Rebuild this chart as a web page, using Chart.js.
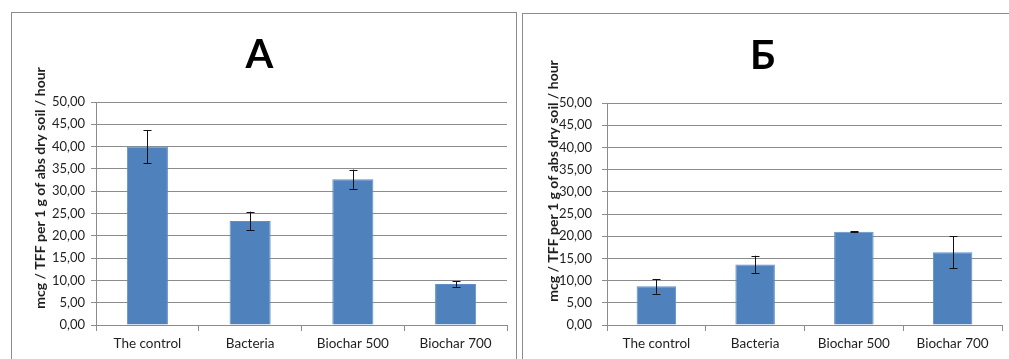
<!DOCTYPE html>
<html>
<head>
<meta charset="utf-8">
<script src="https://cdn.jsdelivr.net/npm/chart.js@4.4.0/dist/chart.umd.min.js"></script>
<style>
  body { margin: 0; background: #fff; width: 1009px; height: 359px; overflow: hidden; position: relative; }
  .frame { position: absolute; border: 1px solid #8c8c8c; border-bottom: none; }
  #frameA { left: 11px; top: 12px; width: 504px; height: 347px; }
  #frameB { left: 522px; top: 13px; width: 490px; height: 346px; border-right: none; }
  canvas { position: absolute; }
  #chartA { left: 12px; top: 13px; }
  #chartB { left: 523px; top: 14px; }
</style>
</head>
<body>
<div class="frame" id="frameA"></div>
<div class="frame" id="frameB"></div>
<canvas id="chartA" width="504" height="346"></canvas>
<canvas id="chartB" width="486" height="345"></canvas>
<script>
// datos
const categorias = ['The control', 'Bacteria', 'Biochar 500', 'Biochar 700'];
const valoresA = [40.0, 23.3, 32.7, 9.2];
const erroresA = [3.7, 2.1, 2.15, 0.65];
const valoresB = [8.7, 13.6, 21.0, 16.4];
const erroresB = [1.65, 2.0, 0.1, 3.6];
const ticksY = [0, 5, 10, 15, 20, 25, 30, 35, 40, 45, 50];
const tituloEje = 'mcg / TFF per 1 g of abs dry soil / hour';

const fuente = 'Lato, "Open Sans", sans-serif';
const colorTexto = '#1f1f1f';
const colorGrid = '#8c8c8c';

// barras de error dibujadas con las escalas de Chart.js
const pluginErrores = {
  id: 'errores',
  afterDatasetsDraw(chart, args, opts) {
    const ctx = chart.ctx;
    const meta = chart.getDatasetMeta(0);
    const y = chart.scales.y;
    ctx.save();
    ctx.strokeStyle = '#111';
    ctx.lineWidth = 1;
    meta.data.forEach((bar, i) => {
      const v = chart.data.datasets[0].data[i];
      const e = opts.errores[i];
      const x = Math.round(bar.x) + 0.5;
      const yTop = y.getPixelForValue(v + e);
      const yBot = y.getPixelForValue(v - e);
      ctx.beginPath();
      ctx.moveTo(x, yTop);
      ctx.lineTo(x, yBot);
      ctx.moveTo(x - 4, Math.round(yTop) + 0.5);
      ctx.lineTo(x + 4, Math.round(yTop) + 0.5);
      ctx.moveTo(x - 4, Math.round(yBot) + 0.5);
      ctx.lineTo(x + 4, Math.round(yBot) + 0.5);
      ctx.stroke();
    });
    ctx.restore();
  }
};

// titulo del eje Y girado
const pluginTituloEje = {
  id: 'tituloEje',
  afterDraw(chart, args, opts) {
    const ctx = chart.ctx;
    ctx.save();
    ctx.translate(opts.x, opts.y);
    ctx.rotate(-Math.PI / 2);
    ctx.font = 'bold 14px ' + fuente;
    ctx.fillStyle = colorTexto;
    ctx.textAlign = 'center';
    ctx.textBaseline = 'middle';
    ctx.fillText(tituloEje, 0, 0);
    ctx.restore();
  }
};

function crearGrafico(id, titulo, valores, errores, derecha, padTicks, ejeX, ejeY) {
  const ctx = document.getElementById(id).getContext('2d');
  return new Chart(ctx, {
    type: 'bar',
    data: {
      labels: categorias,
      datasets: [{
        data: valores,
        backgroundColor: '#4F81BD',
        borderColor: '#5f8fc6',
        borderWidth: 1,
        barPercentage: 0.4,
        categoryPercentage: 1
      }]
    },
    options: {
      responsive: false,
      animation: false,
      layout: { padding: { left: 0, right: derecha, top: 0, bottom: 0 } },
      plugins: {
        legend: { display: false },
        tooltip: { enabled: false },
        title: {
          display: true,
          text: titulo,
          color: '#000',
          font: { family: fuente, size: 40, weight: 'bold', lineHeight: 1.2 },
          padding: { top: 18, bottom: 23 }
        },
        errores: { errores: errores },
        tituloEje: { x: ejeX, y: ejeY }
      },
      scales: {
        x: {
          grid: { display: true, drawOnChartArea: false, offset: true, color: colorGrid, tickLength: 6 },
          border: { color: colorGrid },
          ticks: { color: colorTexto, font: { family: fuente, size: 13.5 }, padding: 5, maxRotation: 0 },
          afterFit(scale) { scale.height = 34; }
        },
        y: {
          min: 0,
          max: 50,
          afterBuildTicks(scale) { scale.ticks = ticksY.map(v => ({ value: v })); },
          grid: { color: colorGrid, tickLength: 5 },
          border: { color: colorGrid },
          ticks: {
            color: colorTexto,
            font: { family: fuente, size: 13 },
            padding: padTicks,
            callback: v => v.toFixed(2).replace('.', ',')
          },
          afterFit(scale) { scale.width = 84; }
        }
      }
    },
    plugins: [pluginErrores, pluginTituloEje]
  });
}

crearGrafico('chartA', 'A', valoresA, erroresA, 9, 6, 28, 175);
crearGrafico('chartB', 'Б', valoresB, erroresB, 7, 10, 30, 167);
</script>
</body>
</html>
